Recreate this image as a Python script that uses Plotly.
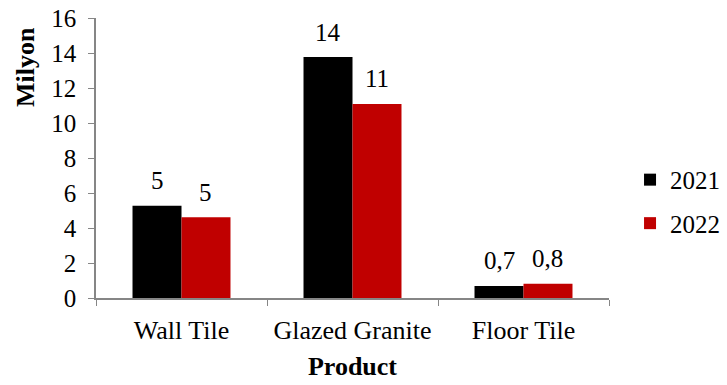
import plotly.graph_objects as go

categories = ["Wall Tile", "Glazed Granite", "Floor Tile"]
values_2021 = [5.27, 13.77, 0.69]
values_2022 = [4.61, 11.09, 0.82]
labels_2021 = ["5", "14", "0,7"]
labels_2022 = ["5", "11", "0,8"]
years = ["2021", "2022"]
colors = ["#000000", "#C00000"]
y_ticks = [0, 2, 4, 6, 8, 10, 12, 14, 16]

FONT = "Liberation Serif, serif"
W, H = 727, 385
ML, MR, MT, MB = 96, 118, 18, 87
BARGAP = 0.427
plot_w = W - ML - MR
plot_h = H - MT - MB
cat_w = plot_w / len(categories)
bar_w = cat_w * (1 - BARGAP) / 2

fig = go.Figure()
for i, (yr, vals, col) in enumerate(zip(years, [values_2021, values_2022], colors)):
    fig.add_trace(go.Bar(x=categories, y=vals, name=yr, marker_color=col,
                         marker_line_width=0, legendgroup=yr))

annotations = []
for sign, vals, labs in [(-1, values_2021, labels_2021), (1, values_2022, labels_2022)]:
    for c, v, t in zip(categories, vals, labs):
        annotations.append(dict(x=c, y=v, text=t, showarrow=False, xref="x", yref="y",
                                yanchor="middle", yshift=25, xshift=sign * bar_w / 2,
                                font=dict(family=FONT, size=25, color="#000")))

annotations.append(dict(text="<b>Milyon</b>", textangle=-90, showarrow=False,
                        xref="paper", yref="paper", x=-71 / plot_w,
                        y=(plot_h - 49) / plot_h, xanchor="center", yanchor="middle",
                        font=dict(family=FONT, size=26, color="#000")))

fig.update_layout(
    width=W, height=H,
    margin=dict(l=ML, r=MR, t=MT, b=MB, autoexpand=False),
    paper_bgcolor="white", plot_bgcolor="white",
    barmode="group", bargap=BARGAP, bargroupgap=0,
    font=dict(family=FONT, size=26, color="#000"),
    annotations=annotations,
    legend=dict(x=1.041, y=0.345, xanchor="left", yanchor="middle",
                font=dict(family=FONT, size=25), tracegroupgap=8,
                traceorder="grouped", bgcolor="rgba(0,0,0,0)"),
    xaxis=dict(showline=True, linecolor="#868686", linewidth=1.5,
               ticks="outside", tickson="boundaries", ticklen=6, tickcolor="#868686",
               tickfont=dict(family=FONT, size=26), ticklabelstandoff=8,
               tickangle=0, automargin=False, ticklabeloverflow="allow",
               title=dict(text="<b>Product</b>", font=dict(family=FONT, size=26), standoff=13),
               showgrid=False),
    yaxis=dict(range=[0, 16], tickvals=y_ticks, showline=True, linecolor="#868686",
               linewidth=1.5, ticks="outside", ticklen=6, tickcolor="#868686",
               tickfont=dict(family=FONT, size=25), ticklabelstandoff=7,
               ticklabeloverflow="allow",
               automargin=False, showgrid=False, zeroline=False),
)

fig.write_html("out.html", post_script="document.body.style.margin='0';",
               config={"displayModeBar": False})
